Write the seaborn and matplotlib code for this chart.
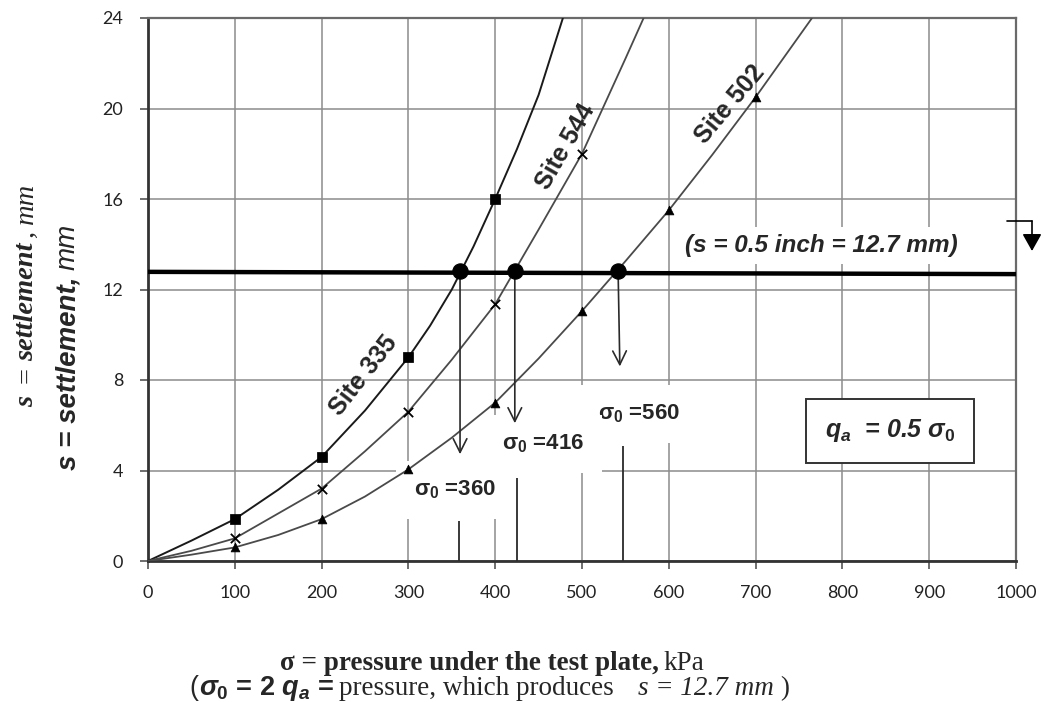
import matplotlib
matplotlib.use("Agg")
import matplotlib.pyplot as plt
import seaborn as sns
from matplotlib.lines import Line2D

x335 = [100, 200, 300, 400]
y335 = [1.85, 4.6, 9.0, 16.0]
x544 = [100, 200, 300, 400, 500]
y544 = [1.0, 3.2, 6.6, 11.35, 18.0]
x502 = [100, 200, 300, 400, 500, 600, 700]
y502 = [0.6, 1.85, 4.05, 7.0, 11.05, 15.5, 20.5]

# fitted curves
curve335_x = [0, 50, 100, 150, 200, 250, 300, 325, 350, 375, 400, 425, 450, 478]
curve335_y = [0, 0.9, 1.85, 3.15, 4.6, 6.65, 9.0, 10.4, 12.0, 13.9, 16.0, 18.2, 20.6, 24.0]
curve544_x = [0, 50, 100, 150, 200, 250, 300, 350, 400, 450, 500, 525, 550, 571]
curve544_y = [0, 0.45, 1.0, 2.1, 3.2, 4.85, 6.6, 8.9, 11.35, 14.65, 18.0, 20.1, 22.2, 24.0]
curve502_x = [0, 50, 100, 150, 200, 250, 300, 350, 400, 450, 500, 550, 600, 650, 700, 765]
curve502_y = [0, 0.28, 0.6, 1.15, 1.85, 2.85, 4.05, 5.45, 7.0, 8.95, 11.05, 13.25, 15.5, 17.95, 20.5, 24.0]

# limit settlement line s = 12.7 mm
limit_x = [0, 1000]
limit_y = [12.78, 12.68]

# sigma_0 intersections
sigma0_x = [359.5, 422.6, 541.6]
sigma0_y = [12.8, 12.8, 12.8]
arrow_tip_x = [359.5, 422.6, 543.6]
arrow_tip_y = [4.72, 6.09, 8.6]
sigma0_labels = ["σ$_0$ =360", "σ$_0$ =416", "σ$_0$ =560"]
label_x = [354, 455, 566]
label_y = [3.13, 5.17, 6.5]
label_z = [2.2, 2.1, 2.0]
stem_x = [358, 425.4, 547]
stem_top = [1.78, 3.69, 5.1]

site_names = ["Site 335", "Site 544", "Site 502"]
site_x = [248, 481, 670]
site_y = [8.2, 18.3, 20.2]
site_rot = [52, 60, 50]

x_ticks = [0, 100, 200, 300, 400, 500, 600, 700, 800, 900, 1000]
y_ticks = [0, 4, 8, 12, 16, 20, 24]

sns.set_theme(style="whitegrid")
plt.rcParams["font.family"] = ["Liberation Sans", "DejaVu Sans"]
plt.rcParams["mathtext.fontset"] = "custom"
plt.rcParams["mathtext.rm"] = "Liberation Sans:bold"
plt.rcParams["mathtext.it"] = "Liberation Sans:italic:bold"
plt.rcParams["mathtext.bf"] = "Liberation Sans:bold"

W, H = 1044, 702
fig = plt.figure(figsize=(W / 100, H / 100), dpi=100)
ax = fig.add_axes([148 / W, 1 - 561 / H, (1016 - 148) / W, (561 - 18) / H])
ax.set_facecolor("white")

grid_c = "#8c8c8c"
ax.grid(True, color=grid_c, lw=1.1, zorder=0)
ax.set_axisbelow(True)

# curves
sns.lineplot(x=curve335_x, y=curve335_y, ax=ax, color="#1a1a1a", lw=1.4, zorder=3)
sns.lineplot(x=curve544_x, y=curve544_y, ax=ax, color="#4a4a4a", lw=1.3, zorder=3)
sns.lineplot(x=curve502_x, y=curve502_y, ax=ax, color="#4a4a4a", lw=1.3, zorder=3)

# markers
sns.scatterplot(x=x335, y=y335, ax=ax, marker="s", s=45, color="black",
                edgecolor="black", zorder=4)
sns.scatterplot(x=x544, y=y544, ax=ax, marker="x", s=45, color="black",
                linewidth=1.3, zorder=4)
sns.scatterplot(x=x502, y=y502, ax=ax, marker="^", s=40, color="black",
                edgecolor="black", zorder=4)

# s = 12.7 mm line
sns.lineplot(x=limit_x, y=limit_y, ax=ax, color="black", lw=3.2, zorder=3)
sns.scatterplot(x=sigma0_x, y=sigma0_y, ax=ax, s=120, color="black",
                edgecolor="black", zorder=5)

for x0, y0, x1, y1 in zip(sigma0_x, sigma0_y, arrow_tip_x, arrow_tip_y):
    ax.annotate("", xy=(x1, y1), xytext=(x0, y0),
                arrowprops=dict(arrowstyle="->,head_length=0.7,head_width=0.35",
                                mutation_scale=14, lw=1.2, color="#2a2a2a",
                                shrinkA=0, shrinkB=0), zorder=4)

ax.vlines(stem_x, [0, 0, 0], stem_top, color="#2a2a2a", lw=1.3, zorder=3)

for s, x, y, z in zip(sigma0_labels, label_x, label_y, label_z):
    ax.text(x, y, s, ha="center", va="center", fontsize=16, fontweight="bold",
            zorder=z, bbox=dict(boxstyle="square,pad=0.8", fc="white", ec="none"))

for s, x, y, r in zip(site_names, site_x, site_y, site_rot):
    ax.text(x, y, s, rotation=r, rotation_mode="anchor", ha="center", va="center",
            fontsize=18, fontweight="bold", zorder=4)

ax.text(776, 13.95, "(s = 0.5 inch = 12.7 mm)", ha="center", va="center",
        fontsize=17.5, fontweight="bold", fontstyle="italic", zorder=2,
        bbox=dict(boxstyle="square,pad=0.3", fc="white", ec="none"))

ax.text(855, 5.75, "$q_a$  = 0.5 $\\sigma_0$", ha="center", va="center",
        fontsize=18, fontweight="bold", fontstyle="italic", zorder=4,
        bbox=dict(boxstyle="square,pad=0.75", fc="white", ec="#333333", lw=1.4))

ax.set_xlim(0, 1000)
ax.set_ylim(0, 24)
ax.set_xticks(x_ticks)
ax.set_yticks(y_ticks)
ax.tick_params(axis="both", which="major", length=6, width=1.2, color="#555555",
               labelsize=13, labelcolor="#222222", bottom=True, left=True)
ax.tick_params(axis="x", pad=11)
ax.tick_params(axis="y", pad=12)
for lab in ax.get_xticklabels() + ax.get_yticklabels():
    lab.set_family(["Lato", "DejaVu Sans"])
ax.set_xlabel("")
ax.set_ylabel("")
for side in ["top", "right"]:
    ax.spines[side].set_color("#6a6a6a")
    ax.spines[side].set_linewidth(1.6)
for side in ["left", "bottom"]:
    ax.spines[side].set_color("#333333")
    ax.spines[side].set_linewidth(2.0)

# arrow outside the plot at the top right
fig.add_artist(Line2D([1007 / W, 1032 / W], [1 - 221 / H, 1 - 221 / H],
                      color="black", lw=1.2))
ax.annotate("", xy=(1032 / W, 1 - 251 / H), xytext=(1032 / W, 1 - 221 / H),
            xycoords="figure fraction", textcoords="figure fraction",
            arrowprops=dict(arrowstyle="-|>,head_length=0.8,head_width=0.45",
                            mutation_scale=13, lw=1.2, color="black",
                            shrinkA=0, shrinkB=0), annotation_clip=False)


def chain_text(pieces, cx, cy, rotation=0):
    """Place text pieces in different fonts one after another, centred."""
    renderer = fig.canvas.get_renderer()
    texts, sizes, gaps = [], [], []
    for s, kw, gap in pieces:
        t = fig.text(0, 0, s, rotation=rotation, rotation_mode="anchor",
                     ha="left", va="baseline", **kw)
        bb = t.get_window_extent(renderer)
        texts.append(t)
        sizes.append(bb.width if rotation == 0 else bb.height)
        gaps.append(gap)
    total = sum(sizes) + sum(gaps[:-1])
    pos = -total / 2
    for t, size, gap in zip(texts, sizes, gaps):
        if rotation == 0:
            t.set_position((cx + pos / W, cy))
        else:
            t.set_position((cx, cy + pos / H))
        pos += size + gap


serif = ["Liberation Serif", "DejaVu Serif"]
sans = ["Liberation Sans", "DejaVu Sans"]

chain_text([
    ("s", dict(family=serif, size=20.5, weight="bold", style="italic"), 13),
    ("=", dict(family=serif, size=20.5), 6),
    ("settlement", dict(family=serif, size=20.5, weight="bold", style="italic"), 4),
    (",", dict(family=serif, size=20.5, style="italic"), 7),
    ("mm", dict(family=serif, size=20.5, style="italic"), 0),
], 33 / W, 1 - 295 / H, rotation=90)

chain_text([
    ("s = settlement,", dict(family=sans, size=20, weight="bold", style="italic"), 6),
    ("mm", dict(family=sans, size=20, style="italic"), 0),
], 75 / W, 1 - 347 / H, rotation=90)

chain_text([
    ("σ = pressure under the test plate,", dict(family=serif, size=19.5, weight="bold"), 5),
    ("kPa", dict(family=serif, size=19.5), 0),
], 492 / W, 1 - 670 / H)

chain_text([
    ("(", dict(family=sans, size=19.5), 1),
    ("$\\sigma_0$ = 2 $q_a$ =", dict(family=sans, size=19.5, weight="bold"), 5),
    ("pressure, which produces", dict(family=serif, size=19.5), 24),
    ("s = 12.7 mm", dict(family=serif, size=19.5, style="italic"), 6),
    (")", dict(family=serif, size=19.5), 0),
], 489 / W, 1 - 695 / H)

fig.savefig("out.png", dpi=100)
